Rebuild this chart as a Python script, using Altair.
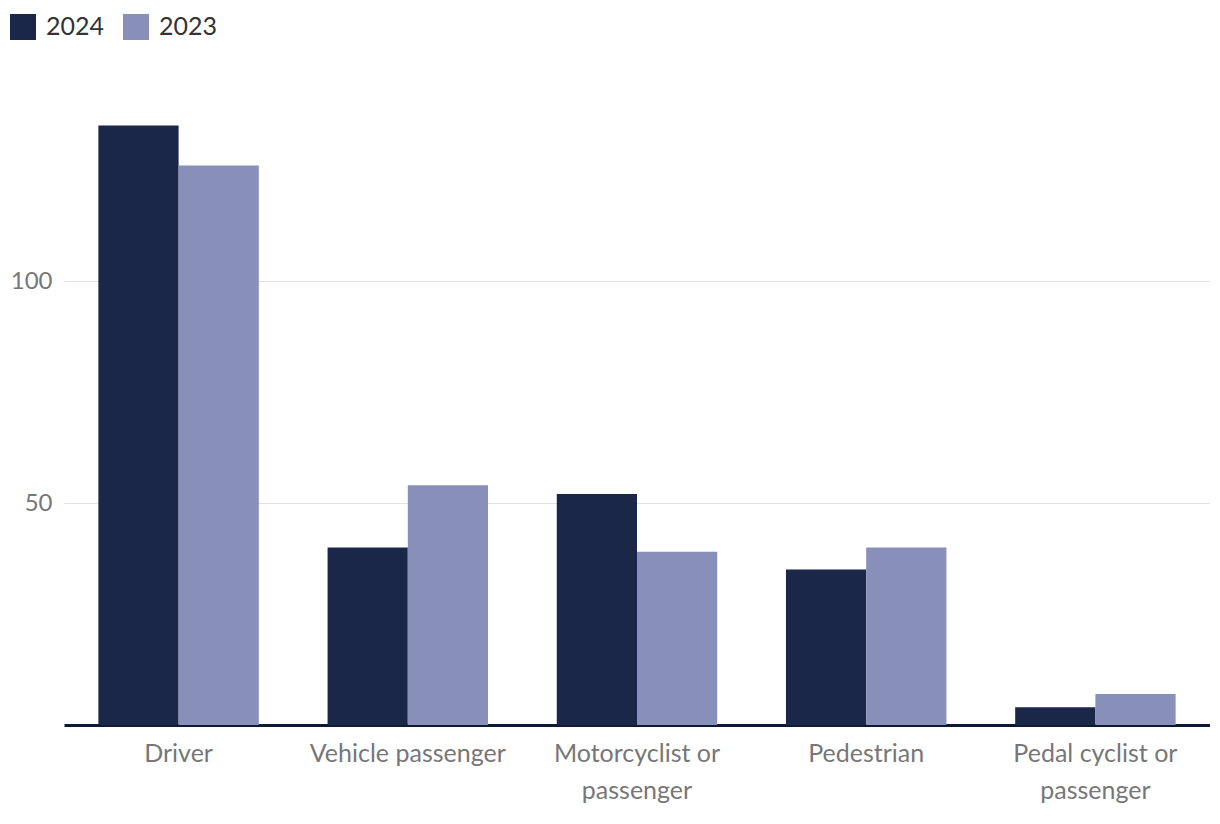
import altair as alt
import pandas as pd

categories = ["Driver", "Vehicle passenger", "Motorcyclist or passenger", "Pedestrian", "Pedal cyclist or passenger"]
years = ["2024", "2023"]
values_2024 = [135, 40, 52, 35, 4]
values_2023 = [126, 54, 39, 40, 7]
colors = ["#1b2748", "#8890b9"]

rows = []
for c, v24, v23 in zip(categories, values_2024, values_2023):
    rows.append({"category": c, "year": "2024", "value": v24})
    rows.append({"category": c, "year": "2023", "value": v23})
df = pd.DataFrame(rows)

FONT = "Lato"
label_expr = ("datum.label == 'Motorcyclist or passenger' ? ['Motorcyclist or', 'passenger'] : "
              "datum.label == 'Pedal cyclist or passenger' ? ['Pedal cyclist or', 'passenger'] : datum.label")

bars = alt.Chart(df).mark_bar().encode(
    x=alt.X("category:N", sort=categories, title=None,
            scale=alt.Scale(paddingInner=0.3, paddingOuter=0.15),
            axis=alt.Axis(labelAngle=0, labelExpr=label_expr, labelFontSize=25, labelColor="#777777",
                          labelFont=FONT, labelPadding=16, labelLineHeight=37, ticks=False,
                          domainColor="#0f1836", domainWidth=3, labelLimit=300)),
    xOffset=alt.XOffset("year:N", sort=years, scale=alt.Scale(paddingInner=0, paddingOuter=0)),
    y=alt.Y("value:Q", title=None, scale=alt.Scale(domain=[0, 150], nice=False),
            axis=alt.Axis(values=[50, 100], labelFontSize=24, labelColor="#777777", labelFont=FONT,
                          ticks=False, domain=False, gridColor="#e2e2e2", gridWidth=1.2, labelPadding=12)),
    color=alt.Color("year:N", sort=years,
                    scale=alt.Scale(domain=years, range=colors),
                    legend=alt.Legend(title=None, orient="none", direction="horizontal",
                                      legendX=-54, legendY=-45, symbolType="square",
                                      symbolSize=676, symbolStrokeWidth=0, symbolOpacity=1,
                                      labelFontSize=25, labelFont=FONT, labelColor="#333333",
                                      columnPadding=18, labelOffset=10)),
)

chart = bars.properties(
    width=1146, height=666,
    autosize=alt.AutoSizeParams(type="none"),
    padding={"left": 56, "top": 51, "right": 0, "bottom": 90},
    background="white",
).configure_view(stroke=None)

chart.save("out.html", embed_options={"renderer": "svg", "actions": False})
